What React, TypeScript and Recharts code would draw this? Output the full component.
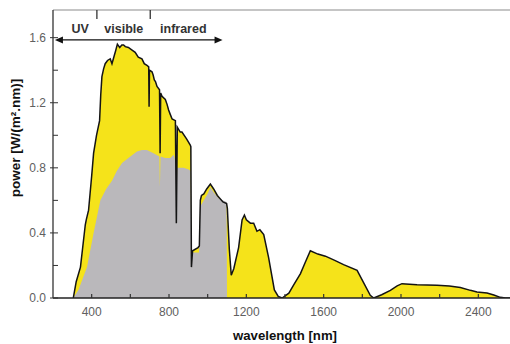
import React from 'react';
import { ComposedChart, Area, Line, XAxis, YAxis, ReferenceLine, ReferenceDot } from 'recharts';

// Solar spectrum (yellow area with black outline)
const solarWavelengths = [
  305, 320, 342, 367, 372, 384, 400, 410, 425, 441, 447, 453, 462, 470, 482, 496, 505, 517, 524, 533,
  545, 556, 565, 574, 590, 609, 625, 641, 660, 672, 686, 695, 697, 699, 712, 718, 724, 730, 738, 751,
  754, 757, 764, 781, 790, 798, 806, 816, 833, 838, 843, 858, 867, 890, 910, 913, 916, 922, 950, 957,
  962, 968, 980, 995, 1014, 1031, 1050, 1079, 1098, 1102, 1112, 1122, 1135, 1160, 1178, 1190, 1200, 1221, 1238, 1255,
  1270, 1290, 1315, 1345, 1365, 1385, 1420, 1445, 1480, 1505, 1531, 1570, 1609, 1660, 1703, 1773, 1841, 1859, 1900, 1945,
  1980, 2005, 2083, 2186, 2250, 2307, 2359, 2393, 2445, 2480, 2514, 2540, 2600,
];
const solarPower = [
  0, 0.1, 0.19, 0.45, 0.48, 0.54, 0.75, 0.89, 1.0, 1.09, 1.25, 1.36, 1.41, 1.44, 1.46, 1.47, 1.44, 1.49, 1.52, 1.56,
  1.54, 1.555, 1.555, 1.545, 1.54, 1.524, 1.51, 1.48, 1.47, 1.44, 1.43, 1.42, 1.175, 1.4, 1.39, 1.37, 1.34, 1.33, 1.3, 1.28,
  0.89, 1.26, 1.24, 1.22, 1.19, 1.155, 1.13, 1.1, 1.09, 0.46, 1.05, 1.02, 1.02, 0.98, 0.94, 0.93, 0.19, 0.29, 0.31, 0.32,
  0.6, 0.63, 0.64, 0.67, 0.7, 0.67, 0.63, 0.59, 0.58, 0.55, 0.3, 0.14, 0.18, 0.31, 0.48, 0.51, 0.48, 0.46, 0.46, 0.41,
  0.42, 0.39, 0.25, 0.05, 0.01, 0, 0.03, 0.08, 0.15, 0.22, 0.29, 0.27, 0.257, 0.23, 0.205, 0.17, 0.017, 0, 0.02, 0.047,
  0.075, 0.088, 0.082, 0.078, 0.074, 0.064, 0.047, 0.037, 0.031, 0.018, 0.004, 0, 0,
];

// Part usable by silicon (grey area)
const siliconWavelengths = [
  305, 332, 376, 410, 445, 475, 505, 530, 557, 590, 634, 660, 686, 720, 750, 753, 756, 780, 807, 824,
  836, 839, 842, 876, 902, 912, 916, 922, 955, 960, 980, 1000, 1014, 1031, 1060, 1098, 1100,
];
const siliconPower = [
  0, 0.05, 0.19, 0.4, 0.6, 0.67, 0.72, 0.78, 0.83, 0.86, 0.9, 0.91, 0.91, 0.89, 0.87, 0.68, 0.87, 0.86, 0.86, 0.88,
  0.84, 0.46, 0.8, 0.8, 0.79, 0.78, 0.19, 0.28, 0.28, 0.56, 0.6, 0.64, 0.68, 0.65, 0.61, 0.59, 0,
];

const xTicks = [400, 600, 800, 1000, 1200, 1400, 1600, 1800, 2000, 2200, 2400];
const yTicks = [0, 0.2, 0.4, 0.6, 0.8, 1.0, 1.2, 1.4, 1.6];
const regionLabels = ['UV', 'visible', 'infrared'];
const regionLabelCenters = [341, 566, 874];
const regionBoundaries = [427, 703];
const arrowRange = [210, 1077];

const solarData = solarWavelengths.map((wl, i) => ({ wl, p: solarPower[i] }));
const siliconData = siliconWavelengths.map((wl, i) => ({ wl, p: siliconPower[i] }));

const FONT = '"Liberation Sans", Arial, Helvetica, sans-serif';
const Y_MAX = 1.77;

const YTick = (props: any) => {
  const { x, y, payload } = props;
  const major = Math.round(payload.value * 10) % 4 === 0;
  return (
    <g>
      <line x1={major ? x - 3 : x} y1={y} x2={x + 5} y2={y} stroke="#333" strokeWidth={1} />
      {major && (
        <text x={x - 7} y={y + 4} textAnchor="end" fontSize={12} fill="#606060" fontFamily={FONT}>
          {payload.value.toFixed(1)}
        </text>
      )}
    </g>
  );
};

const XTick = (props: any) => {
  const { x, y, payload } = props;
  const major = payload.value % 400 === 0;
  return (
    <g>
      <line x1={x} y1={y} x2={x} y2={y - 4} stroke="#333" strokeWidth={1.2} />
      {major && (
        <text x={x} y={y + 18} textAnchor="middle" fontSize={12} fill="#606060" fontFamily={FONT}>
          {payload.value}
        </text>
      )}
    </g>
  );
};

const ArrowShape = (props: any) => {
  const { x1, y1, x2, y2 } = props;
  return (
    <g>
      <line x1={x1 + 5} y1={y1} x2={x2 - 5} y2={y2} stroke="#111" strokeWidth={1.2} />
      <polygon points={`${x1},${y1} ${x1 + 8},${y1 - 3.5} ${x1 + 8},${y1 + 3.5}`} fill="#111" />
      <polygon points={`${x2},${y2} ${x2 - 8},${y2 - 3.5} ${x2 - 8},${y2 + 3.5}`} fill="#111" />
    </g>
  );
};

const makeTextShape = (label: string) => (props: any) => (
  <text
    x={props.cx}
    y={props.cy + 4.5}
    textAnchor="middle"
    fontSize={12.5}
    fontWeight="bold"
    fill="#333"
    fontFamily={FONT}
  >
    {label}
  </text>
);

export default function App() {
  return (
    <div style={{ position: 'absolute', left: 0, top: 0, width: 510, height: 344, overflow: 'hidden', background: '#fff' }}>
      <ComposedChart width={530} height={344} margin={{ top: 10, right: 13, left: 0, bottom: 0 }}>
        <XAxis
          dataKey="wl"
          type="number"
          domain={[200, 2600]}
          allowDataOverflow
          ticks={xTicks}
          tick={<XTick />}
          tickLine={false}
          tickSize={0}
          tickMargin={0}
          height={46}
          axisLine={{ stroke: '#222', strokeWidth: 1.6 }}
          label={(p: any) => {
            const vb = p.viewBox || { x: 53, y: 298, width: 464 };
            return (
              <text
                x={vb.x + vb.width / 2}
                y={vb.y + 42}
                textAnchor="middle"
                fontSize={13.2}
                fontWeight="bold"
                fill="#111"
                fontFamily={FONT}
              >
                wavelength [nm]
              </text>
            );
          }}
        />
        <YAxis
          type="number"
          domain={[0, Y_MAX]}
          allowDataOverflow
          ticks={yTicks}
          tick={<YTick />}
          tickLine={false}
          tickSize={0}
          tickMargin={0}
          width={53}
          axisLine={{ stroke: '#333', strokeWidth: 1.3 }}
          label={() => (
            <text
              x={20}
              y={138}
              transform="rotate(-90 20 138)"
              textAnchor="middle"
              fontSize={13.5}
              fontWeight="bold"
              fill="#111"
              fontFamily={FONT}
            >
              power [W/(m².nm)]
            </text>
          )}
        />
        <ReferenceLine y={Y_MAX} stroke="#8c8c8c" strokeWidth={1.2} />
        <Area
          data={solarData}
          dataKey="p"
          type="linear"
          fill="#F5E31A"
          fillOpacity={1}
          stroke="none"
          isAnimationActive={false}
        />
        <Area
          data={siliconData}
          dataKey="p"
          type="linear"
          fill="#BAB8BB"
          fillOpacity={1}
          stroke="none"
          isAnimationActive={false}
        />
        <Line
          data={solarData}
          dataKey="p"
          type="linear"
          stroke="#141414"
          strokeWidth={1.5}
          dot={false}
          isAnimationActive={false}
        />
        {regionBoundaries.map((b) => (
          <ReferenceLine
            key={b}
            segment={[{ x: b, y: Y_MAX }, { x: b, y: 1.715 }]}
            stroke="#333"
            strokeWidth={1.3}
          />
        ))}
        <ReferenceLine
          segment={[{ x: arrowRange[0], y: 1.586 }, { x: arrowRange[1], y: 1.586 }]}
          shape={<ArrowShape />}
        />
        {regionLabels.map((l, i) => (
          <ReferenceDot key={l} x={regionLabelCenters[i]} y={1.658} r={0} shape={makeTextShape(l)} />
        ))}
      </ComposedChart>
    </div>
  );
}
